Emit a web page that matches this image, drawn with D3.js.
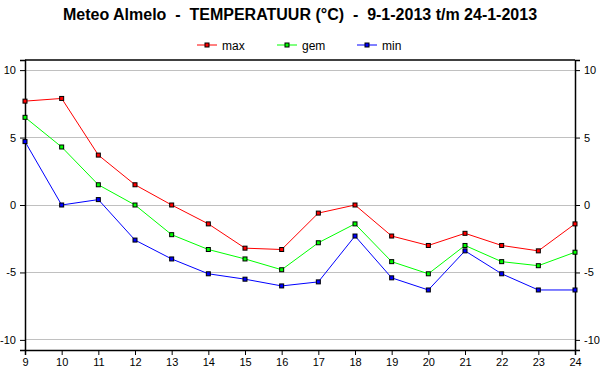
<!DOCTYPE html>
<html>
<head>
<meta charset="utf-8">
<script src="https://cdn.jsdelivr.net/npm/d3@7.9.0/dist/d3.min.js"></script>
<style>
  body { margin: 0; background: #fff; }
  svg { display: block; font-family: "Liberation Sans", Arial, sans-serif; }
</style>
</head>
<body>
<svg id="chart" width="600" height="390"></svg>
<script>
// days of january 2013
const days = [9, 10, 11, 12, 13, 14, 15, 16, 17, 18, 19, 20, 21, 22, 23, 24];
const maxTemp = [7.7, 7.9, 3.7, 1.5, 0.0, -1.4, -3.2, -3.3, -0.6, 0.0, -2.3, -3.0, -2.1, -3.0, -3.4, -1.4];
const gemTemp = [6.5, 4.3, 1.5, 0.0, -2.2, -3.3, -4.0, -4.8, -2.8, -1.4, -4.2, -5.1, -3.0, -4.2, -4.5, -3.5];
const minTemp = [4.7, 0.0, 0.4, -2.6, -4.0, -5.1, -5.5, -6.0, -5.7, -2.3, -5.4, -6.3, -3.4, -5.1, -6.3, -6.3];
const yTicks = [-10, -5, 0, 5, 10];

const series = [
  { name: 'max', color: '#ff0000', values: maxTemp },
  { name: 'gem', color: '#00ff00', values: gemTemp },
  { name: 'min', color: '#0000ff', values: minTemp }
];

const svg = d3.select('#chart');
const plot = { left: 25, right: 575, top: 60, bottom: 350 };

const x = d3.scaleLinear().domain([9, 24]).range([plot.left, plot.right]);
const y = d3.scaleLinear().domain([-10.75, 10.75]).range([plot.bottom, plot.top]);

// title (double spaces kept)
svg.append('text')
  .attr('x', 300).attr('y', 20)
  .attr('text-anchor', 'middle')
  .attr('font-size', 16).attr('font-weight', 'bold')
  .attr('fill', '#000')
  .style('white-space', 'pre')
  .text('Meteo Almelo  -  TEMPERATUUR (°C)  -  9-1-2013 t/m 24-1-2013');

// legend
series.forEach((s, i) => {
  const lx = 197 + i * 80;
  const g = svg.append('g').attr('transform', `translate(${lx},45)`);
  g.append('line').attr('x1', 0).attr('x2', 20).attr('y1', 0).attr('y2', 0)
    .attr('stroke', s.color).attr('stroke-width', 1);
  g.append('rect').attr('x', 8).attr('y', -2).attr('width', 4).attr('height', 4)
    .attr('fill', s.color).attr('stroke', '#000').attr('stroke-width', 1);
  g.append('text').attr('x', 25).attr('y', 4.5)
    .attr('font-size', 12).attr('fill', '#000').text(s.name);
});

// grid lines
svg.append('g').selectAll('line')
  .data(yTicks)
  .join('line')
  .attr('x1', plot.left).attr('x2', plot.right)
  .attr('y1', d => y(d)).attr('y2', d => y(d))
  .attr('stroke', '#c0c0c0').attr('stroke-width', 1)
  .attr('shape-rendering', 'crispEdges');

// axes, plain hyphen for negatives
const fmt = d => String(d);
const leftAxis = svg.append('g').attr('transform', `translate(${plot.left},0)`)
  .call(d3.axisLeft(y).tickValues(yTicks).tickSize(5).tickPadding(4).tickFormat(fmt));
const rightAxis = svg.append('g').attr('transform', `translate(${plot.right},0)`)
  .call(d3.axisRight(y).tickValues(yTicks).tickSize(5).tickPadding(4).tickFormat(fmt));
const bottomAxis = svg.append('g').attr('transform', `translate(0,${plot.bottom})`)
  .call(d3.axisBottom(x).tickValues(days).tickSize(5).tickPadding(3).tickFormat(fmt));

[leftAxis, rightAxis, bottomAxis].forEach(a => {
  a.selectAll('path').attr('stroke', '#000').attr('stroke-width', 1.5);
  a.selectAll('line').attr('stroke', '#000');
  a.selectAll('text').attr('font-size', 11).attr('fill', '#000')
    .attr('font-family', '"Liberation Sans", Arial, sans-serif');
});

// top frame
svg.append('line')
  .attr('x1', plot.left).attr('x2', plot.right).attr('y1', plot.top).attr('y2', plot.top)
  .attr('stroke', '#000').attr('stroke-width', 1.5);

// series lines and markers
const line = d3.line()
  .x((d, i) => x(days[i]))
  .y(d => y(d));

series.forEach(s => {
  svg.append('path')
    .datum(s.values)
    .attr('d', line)
    .attr('fill', 'none')
    .attr('stroke', s.color)
    .attr('stroke-width', 1);

  svg.append('g').selectAll('rect')
    .data(s.values)
    .join('rect')
    .attr('x', (d, i) => x(days[i]) - 2)
    .attr('y', d => y(d) - 2)
    .attr('width', 4).attr('height', 4)
    .attr('fill', s.color)
    .attr('stroke', '#000').attr('stroke-width', 1);
});
</script>
</body>
</html>
